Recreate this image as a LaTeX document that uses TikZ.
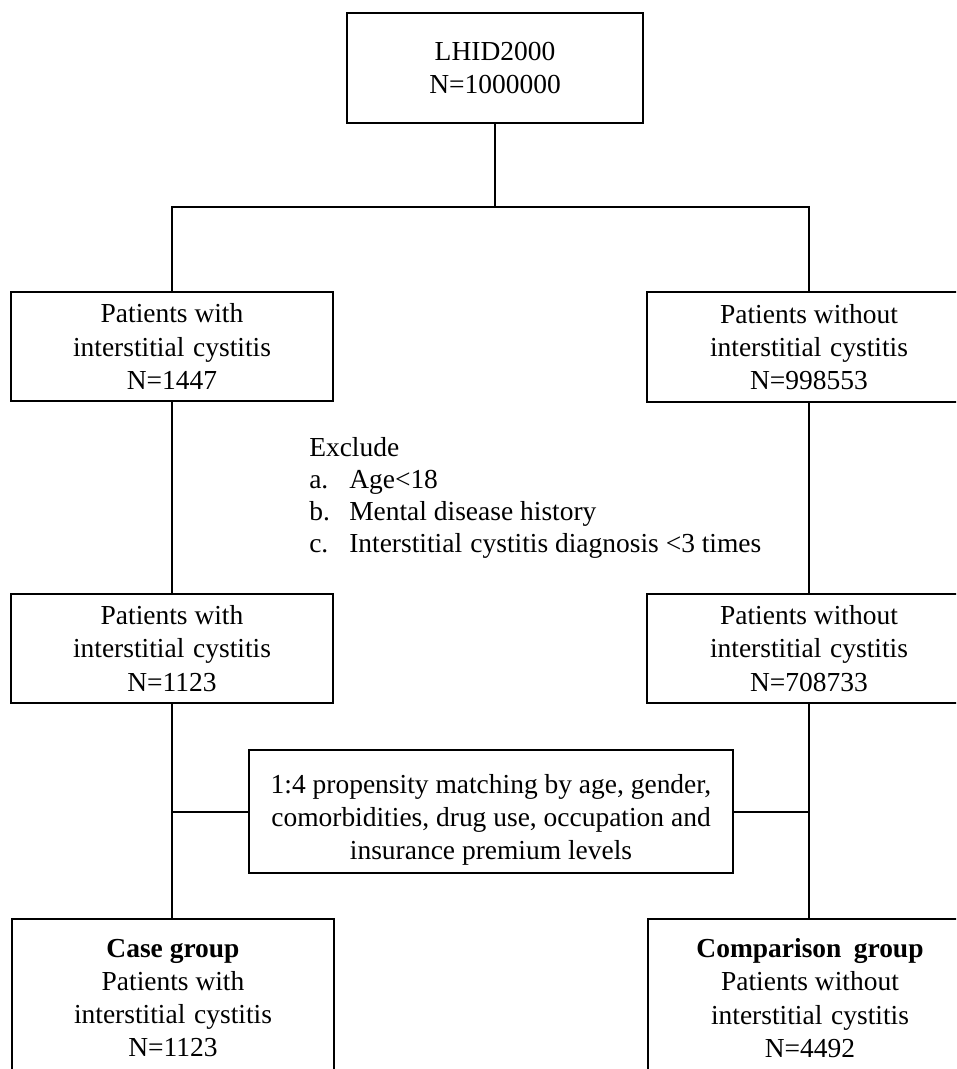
\documentclass[tikz,border=0pt]{standalone}
\usepackage{fontspec}
\setmainfont{Liberation Serif}
\begin{document}
\begin{tikzpicture}[x=0.75pt,y=-0.75pt,
  box/.style={draw=black,line width=1.5pt,fill=white,inner sep=0pt,align=center,
    font=\fontsize{20.6pt}{24.9pt}\selectfont},
  txt/.style={inner sep=0pt,align=center,font=\fontsize{20.6pt}{24.9pt}\selectfont},
  exl/.style={inner sep=0pt,anchor=base west,font=\fontsize{20.6pt}{24.9pt}\selectfont},
  conn/.style={draw=black,line width=1.5pt}]
\clip (0,0) rectangle (956,1069);
\fill[white] (0,0) rectangle (956,1069);
% boxes
\node[box,minimum width=222pt,minimum height=82.5pt] (top) at (495,68) {LHID2000\\N=1000000};
\node[box,minimum width=241.5pt,minimum height=81.75pt] (l2) at (172,346.5)
  {Patients with\\interstitial\hspace{0.32em}cystitis\\N=1447};
\node[box,minimum width=243pt,minimum height=81.75pt] (r2) at (809,347)
  {Patients without\\interstitial\hspace{0.32em}cystitis\\N=998553};
\node[box,minimum width=241.5pt,minimum height=81.75pt] (l3) at (172,648.5)
  {Patients with\\interstitial\hspace{0.32em}cystitis\\N=1123};
\node[box,minimum width=243pt,minimum height=81.75pt] (r3) at (809,648.5)
  {Patients without\\interstitial\hspace{0.32em}cystitis\\N=708733};
\node[box,minimum width=363pt,minimum height=92.25pt] (mid) at (491,811.5) {};
\node[txt] (midtxt) at (491,820)
  {1:4 propensity matching by age, gender,\\comorbidities, drug use, occupation and\\insurance premium levels};
\node[box,minimum width=241.5pt,minimum height=118.5pt] (l4) at (173,998)
  {\textbf{Case group}\\Patients with\\interstitial\hspace{0.32em}cystitis\\N=1123};
\node[box,minimum width=243pt,minimum height=118.5pt] (r4) at (810,998)
  {\textbf{Comparison\hspace{0.45em}group}\\Patients without\\interstitial\hspace{0.32em}cystitis\\N=4492};
% exclusion text
\node[exl] (ex0) at (309,456) {Exclude};
\node[exl] (exa) at (309,488) {\makebox[30pt][l]{a.}Age<18};
\node[exl] (exb) at (309,520) {\makebox[30pt][l]{b.}Mental disease history};
\node[exl] (exc) at (309,552) {\makebox[30pt][l]{c.}Interstitial\hspace{0.3em}cystitis diagnosis <3 times};
% connectors
\coordinate (split) at (top.south |- 0,207);
\draw[conn] (top.south) -- (split);
\draw[conn] (l2.north) |- (split) -| (r2.north);
\draw[conn] (l2.south) -- (l3.north);
\draw[conn] (r2.south) -- (r3.north);
\draw[conn] (l3.south) -- (l3.south |- l4.north);
\draw[conn] (r3.south) -- (r3.south |- r4.north);
\draw[conn] (mid.west) -- (mid.west -| l3.south);
\draw[conn] (mid.east) -- (mid.east -| r3.south);
\end{tikzpicture}
\end{document}
